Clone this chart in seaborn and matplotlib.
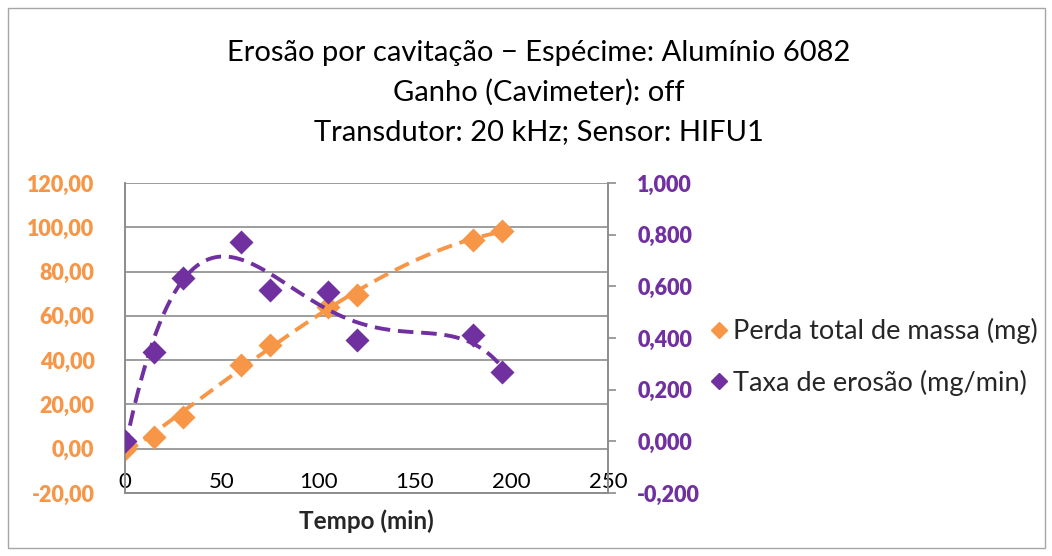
import numpy as np
import pandas as pd
import seaborn as sns
import matplotlib
matplotlib.use("Agg")
import matplotlib.pyplot as plt
from matplotlib.lines import Line2D
from matplotlib.patches import Rectangle
from matplotlib.font_manager import FontProperties
import warnings
warnings.filterwarnings("ignore")

# ---- data ----
tempo = [0, 15, 30, 60, 75, 105, 120, 180, 195]
perda_total = [0.0, 5.1, 14.5, 37.8, 46.8, 63.9, 69.4, 94.3, 98.5]
taxa_erosao = [0.000, 0.344, 0.632, 0.772, 0.587, 0.580, 0.391, 0.413, 0.269]
serie_nomes = ["Perda total de massa (mg)", "Taxa de erosão (mg/min)"]
titulo = ["Erosão por cavitação \u2212 Espécime: Alumínio 6082",
          "Ganho (Cavimeter): off",
          "Transdutor: 20 kHz; Sensor: HIFU1"]
x_label = "Tempo (min)"
left_ticks = [-20, 0, 20, 40, 60, 80, 100, 120]
right_ticks = [-0.2, 0.0, 0.2, 0.4, 0.6, 0.8, 1.0]
x_ticks = [0, 50, 100, 150, 200, 250]

df = pd.DataFrame({"tempo": tempo, "perda": perda_total, "taxa": taxa_erosao})

ORANGE = "#F79646"
PURPLE = "#7030A0"
GRID = "#8C8C8C"
FONT = ["Lato", "DejaVu Sans"]

sns.set_theme(style="white")
plt.rcParams["font.family"] = FONT

fig = plt.figure(figsize=(10.52, 5.56), dpi=100)
fig.patch.set_facecolor("white")
fig.add_artist(Rectangle((8/1052, 8/556), 1037/1052, 540/556, transform=fig.transFigure,
                         fill=False, edgecolor="#A6A6A6", lw=1.0))

ax = fig.add_axes([125/1052, 1 - 493/556, (608 - 125)/1052, (493 - 183)/556])
ax2 = ax.twinx()

DASH = (0, (4, 2))

# orange series (left axis)
sns.regplot(data=df, x="tempo", y="perda", order=3, ci=None, scatter=False, ax=ax,
            line_kws=dict(color=ORANGE, ls=DASH, lw=2.8), truncate=True)
sns.scatterplot(data=df, x="tempo", y="perda", ax=ax, marker="D", s=150, color=ORANGE,
                edgecolor=ORANGE, linewidth=0, zorder=5)

# purple series (right axis)
sns.regplot(data=df, x="tempo", y="taxa", order=4, ci=None, scatter=False, ax=ax2,
            line_kws=dict(color=PURPLE, ls=DASH, lw=2.8), truncate=True)
sns.scatterplot(data=df, x="tempo", y="taxa", ax=ax2, marker="D", s=150, color=PURPLE,
                edgecolor=PURPLE, linewidth=0, zorder=5)

ax.set_xlim(0, 250)
ax.set_ylim(-20, 120)
ax2.set_ylim(-0.2, 1.0)

ax.tick_params(axis="y", length=0, pad=22)
ax.tick_params(axis="x", length=0, pad=-1)
ax2.tick_params(axis="y", direction="out", length=6, width=1.2, color=GRID, pad=15, right=True)

bold_fp = FontProperties(family="Lato", weight="heavy", size=15.5)
tick_fp = FontProperties(family="Lato", weight="normal", size=16)

ax.set_xticks(x_ticks)
ax.set_yticks(left_ticks)
ax2.set_yticks(right_ticks)
ax.set_yticklabels([f"{v:.2f}".replace(".", ",") for v in left_ticks],
                   fontproperties=bold_fp, color=ORANGE)
ax2.set_yticklabels([f"{v:.3f}".replace(".", ",") for v in right_ticks],
                    fontproperties=bold_fp, color=PURPLE)
ax.set_xticklabels([str(v) for v in x_ticks], fontproperties=tick_fp, color="black",
                   va="bottom")

# horizontal grid at left-axis ticks
ax.yaxis.grid(True, color=GRID, lw=1.2)
ax.xaxis.grid(False)
ax.set_axisbelow(True)

for sp in ["left", "bottom", "right"]:
    ax.spines[sp].set_color(GRID); ax.spines[sp].set_linewidth(1.2)
    ax2.spines[sp].set_color(GRID); ax2.spines[sp].set_linewidth(1.2)
ax.spines["top"].set_visible(False)
ax2.spines["top"].set_visible(False)

ax.set_xlabel(x_label, fontsize=17.5, fontweight="bold", labelpad=12)
ax.set_ylabel("")
ax2.set_ylabel("")

# title
for i, t in enumerate(titulo):
    fig.text(0.512, 1 - (53 + 39.5*i)/556, t, ha="center", va="center", fontsize=21,
             color="black")

# legend
handles = [Line2D([], [], marker="D", ls="", color=ORANGE, markersize=8),
           Line2D([], [], marker="D", ls="", color=PURPLE, markersize=8)]
fig.legend(handles, serie_nomes, loc="center left", bbox_to_anchor=(695/1052, 1 - 357/556),
           frameon=False, fontsize=19.5, handletextpad=0.0, labelspacing=0.95,
           handlelength=1.0, borderaxespad=0)

fig.savefig("out.png", dpi=100, facecolor="white")
